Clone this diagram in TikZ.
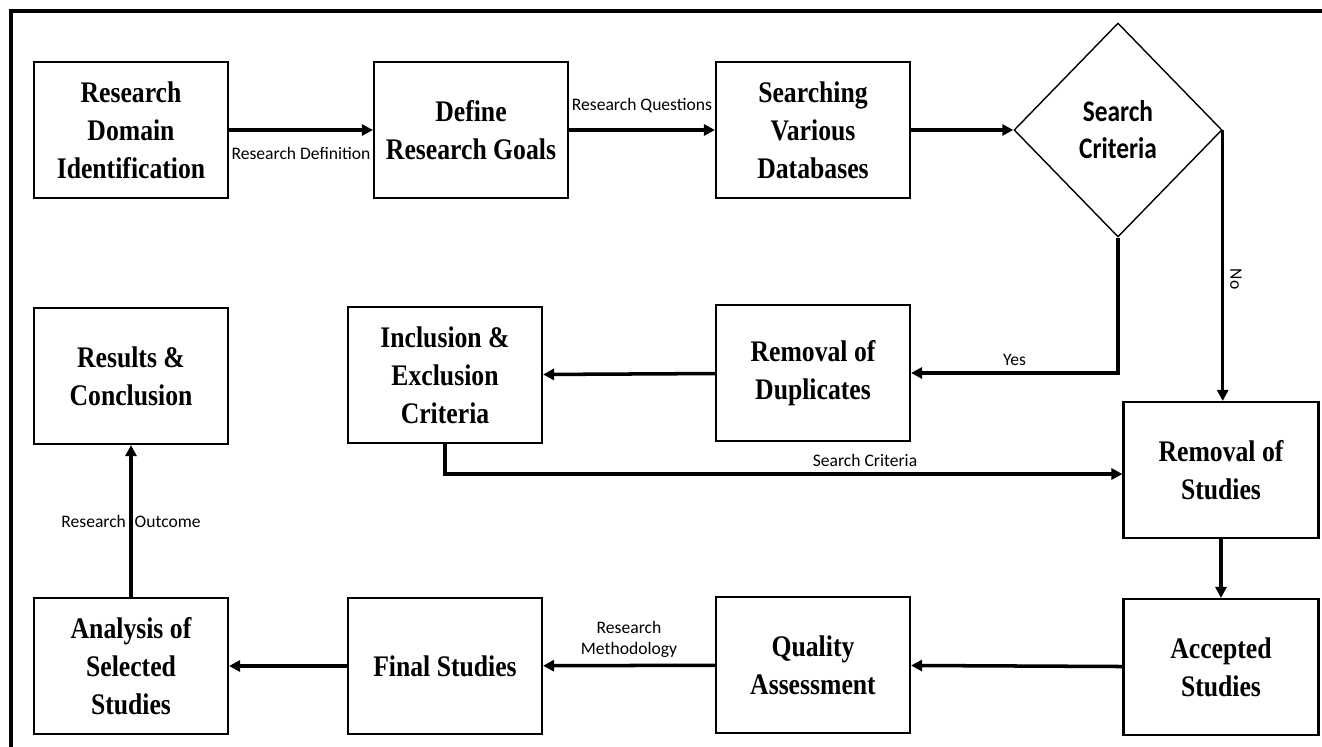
\documentclass[tikz,border=0pt]{standalone}
\usepackage{fontspec}
\usetikzlibrary{arrows.meta,shapes.geometric}
\newfontfamily\boxfont{Liberation Serif}[FakeStretch=0.86]
\newfontfamily\critfont{Carlito}[FakeStretch=0.85]
\newfontfamily\lblfont{Carlito}

\begin{document}
\begin{tikzpicture}[x=0.2mm,y=-0.2mm,line width=2pt,>={Triangle[length=2.2mm,width=2.2mm]},
  caja/.style={draw,line width=1.2pt,minimum width=38.8mm,minimum height=27.2mm,align=center,
    font=\boxfont\bfseries\fontsize{17}{21.6}\selectfont},
  rombo/.style={draw,diamond,line width=0.8pt,minimum width=41.6mm,minimum height=42.8mm,
    inner sep=0pt,align=center,font=\critfont\bfseries\fontsize{17}{21}\selectfont},
  etiq/.style={font=\lblfont\fontsize{10}{12}\selectfont,align=center}]
  \useasboundingbox (0,0) rectangle (1322,747);
  % marco
  \draw[line width=2.4pt] (1322,11) -- (11,11) -- (11,747);
  % fila superior
  \node[caja] (dom) at (131,130) {Research\\Domain\\Identification};
  \node[caja] (goals) at (471,130) {Define\\Research Goals};
  \node[caja] (dbs) at (813,130) {Searching\\Various\\Databases};
  \node[rombo] (crit) at (1118,130) {Search\\Criteria};
  % fila central
  \node[caja] (res) at (131,376) {Results \&\\Conclusion};
  \node[caja] (incl) at (445,375) {Inclusion \&\\Exclusion\\Criteria};
  \node[caja] (dup) at (813,373) {Removal of\\Duplicates};
  \node[caja,minimum width=39mm] (rstud) at (1221,470) {Removal of\\Studies};
  % fila inferior
  \node[caja] (anal) at (131,666) {Analysis of\\Selected\\Studies};
  \node[caja] (fin) at (445,666) {Final Studies};
  \node[caja] (qual) at (813,665) {Quality\\Assessment};
  \node[caja,minimum width=39mm] (acc) at (1221,667) {Accepted\\Studies};
  % flechas
  \draw[->] (dom) -- node[etiq,below=2mm] {Research Definition} (goals);
  \draw[->] (goals) -- node[etiq,above=2mm] {Research Questions} (dbs);
  \draw[->] (dbs) -- (crit.west);
  \draw[->] (crit.south) |- node[etiq,pos=0.75,above] {Yes} (dup.east);
  \draw[->] (crit.east) -- node[etiq,pos=0.55,rotate=-90,above] {No} (crit.east |- rstud.north);
  \draw[->] (dup) -- (incl);
  \draw[->] (incl.south) |- node[etiq,pos=0.81,above] {Search Criteria} ([yshift=-0.8mm]rstud.west);
  \draw[->] (rstud) -- (acc);
  \draw[->] (acc) -- (qual);
  \draw[->] (qual) -- node[etiq,above] {Research\\Methodology} (fin);
  \draw[->] (fin) -- (anal);
  \draw[->] (anal) -- node[etiq] {Research\hspace{0.5em}Outcome} (res);
\end{tikzpicture}
\end{document}
